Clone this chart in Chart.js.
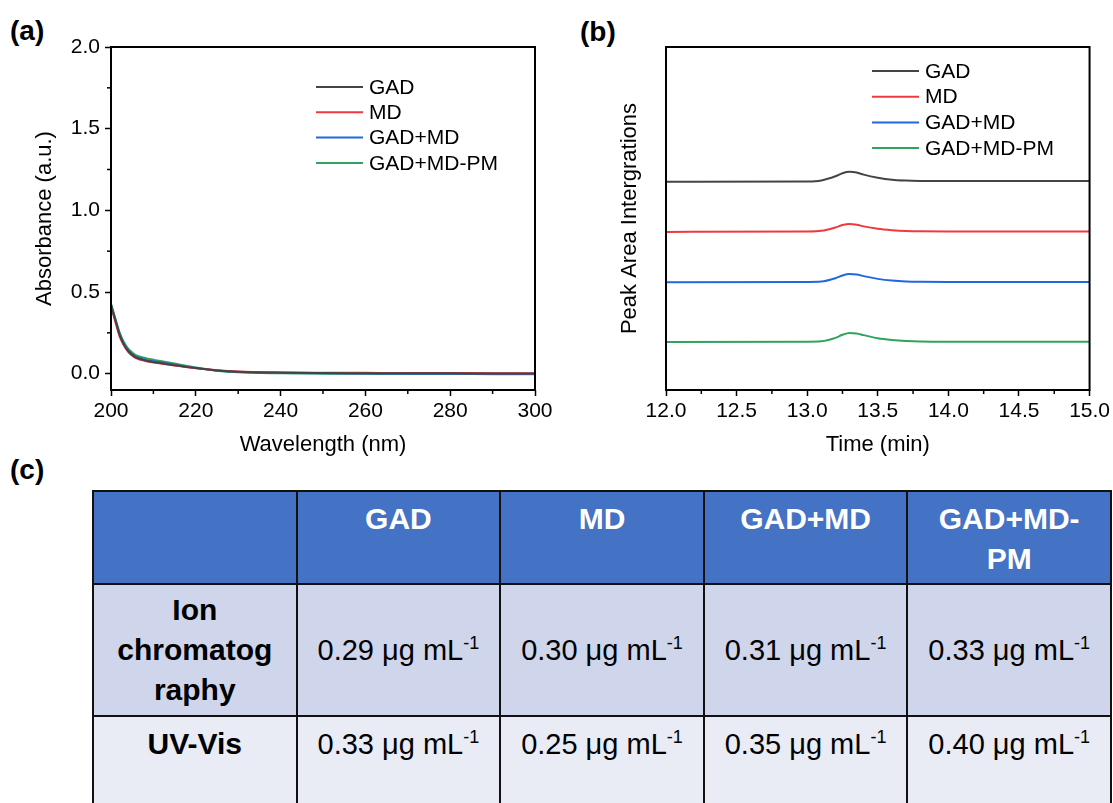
<!DOCTYPE html>
<html>
<head>
  <meta charset="utf-8" />
  <title>GAD / MD detection</title>
  <script src="https://cdn.jsdelivr.net/npm/chart.js@4.4.1/dist/chart.umd.min.js"></script>
  <style>
    body {
      margin: 0;
      width: 1113px;
      height: 803px;
      overflow: hidden;
      background-color: #ffffff;
      font-family: 'Liberation Sans', Arial, sans-serif;
      position: relative;
    }
    canvas { position: absolute; top: 0; }
    #uv { left: 0; }
    #ic { left: 556px; }
    .panel {
      position: absolute;
      font-size: 28px;
      font-weight: bold;
      line-height: 1;
    }
    #lod {
      position: absolute;
      left: 92px;
      top: 490px;
      width: 1020px;
      border-collapse: collapse;
      table-layout: fixed;
    }
    #lod td, #lod th {
      border: 2px solid #111111;
      text-align: center;
      line-height: 40px;
      padding: 0 4px;
    }
    #lod th {
      background-color: #4472C4;
      color: #ffffff;
      font-size: 30px;
      height: 84px;
      vertical-align: top;
      padding-top: 7px;
    }
    #lod td { font-size: 29px; }
    #lod td.name { font-weight: bold; font-size: 30px; }
    #lod tr.ic td { background-color: #CFD5EA; height: 130px; vertical-align: middle; }
    #lod tr.uv td { background-color: #E9EBF5; height: 100px; vertical-align: top; padding-top: 7px; }
    #lod sup { font-size: 18px; line-height: 0; vertical-align: 11px; }
  </style>
</head>
<body>
  <div class="panel" style="left:10px; top:17px;">(a)</div>
  <div class="panel" style="left:580px; top:18px;">(b)</div>
  <div class="panel" style="left:10px; top:456px;">(c)</div>

  <canvas id="uv" width="560" height="470"></canvas>
  <canvas id="ic" width="557" height="470"></canvas>

  <table id="lod"></table>

  <script>
    const samples = ['GAD', 'MD', 'GAD+MD', 'GAD+MD-PM'];
    const colors = ['#444444', '#F0393C', '#2168DE', '#2FA35F'];

    // UV-Vis absorbance spectra
    const wavelength = [200, 201, 202, 203, 204, 205, 206, 208, 210, 212, 215, 218, 220, 225, 230, 240, 250, 260, 270, 280, 290, 300];
    const absGAD   = [0.42, 0.33, 0.24, 0.18, 0.14, 0.115, 0.098, 0.082, 0.072, 0.064, 0.052, 0.040, 0.034, 0.020, 0.012, 0.006, 0.004, 0.003, 0.002, 0.002, 0.001, 0.001];
    const absMD    = [0.41, 0.32, 0.23, 0.175, 0.135, 0.11, 0.094, 0.078, 0.068, 0.061, 0.050, 0.039, 0.033, 0.021, 0.013, 0.008, 0.006, 0.005, 0.004, 0.004, 0.003, 0.003];
    const absGADMD = [0.42, 0.33, 0.245, 0.185, 0.145, 0.12, 0.102, 0.086, 0.076, 0.068, 0.055, 0.042, 0.035, 0.019, 0.010, 0.004, 0.002, 0.001, 0.000, -0.001, -0.001, -0.002];
    const absPM    = [0.43, 0.34, 0.255, 0.195, 0.155, 0.13, 0.112, 0.096, 0.085, 0.076, 0.062, 0.047, 0.038, 0.018, 0.008, 0.002, 0.000, -0.001, -0.002, -0.002, -0.003, -0.003];
    const uvMinorX = [210, 230, 250, 270, 290];
    const uvMinorY = [0.25, 0.75, 1.25, 1.75];

    // ion chromatograms (stacked, arbitrary units)
    const time = [12.0, 13.0, 13.1, 13.2, 13.25, 13.3, 13.35, 13.4, 13.5, 13.6, 13.7, 13.8, 14.0, 15.0];
    const icGAD   = [60.7, 60.8, 61.1, 62.3, 63.2, 63.6, 63.4, 62.8, 61.9, 61.3, 61.05, 60.95, 60.9, 60.9];
    const icMD    = [46.1, 46.2, 46.4, 47.4, 48.1, 48.4, 48.2, 47.7, 47.0, 46.6, 46.35, 46.25, 46.2, 46.2];
    const icGADMD = [31.4, 31.5, 31.6, 32.6, 33.4, 33.8, 33.7, 33.2, 32.4, 31.9, 31.65, 31.55, 31.5, 31.5];
    const icPM    = [14.0, 14.1, 14.2, 15.2, 16.1, 16.6, 16.5, 16.0, 15.1, 14.6, 14.3, 14.15, 14.1, 14.1];
    const icMinorX = [12.25, 12.75, 13.25, 13.75, 14.25, 14.75];

    // detection limits (ug/mL)
    const ionChromatography = ['0.29', '0.30', '0.31', '0.33'];
    const uvVis = ['0.33', '0.25', '0.35', '0.40'];

    Chart.defaults.font.family = "'Liberation Sans', Arial, sans-serif";
    Chart.defaults.color = '#000000';

    // axis box, minor ticks and the little inset legend
    const framePlugin = {
      id: 'frame',
      afterDraw(chart, args, opts) {
        const ctx = chart.ctx;
        const a = chart.chartArea;
        const sx = chart.scales.x, sy = chart.scales.y;
        ctx.save();
        ctx.strokeStyle = '#000000';
        ctx.lineWidth = 1.5;
        (opts.minorX || []).forEach(v => {
          const px = sx.getPixelForValue(v);
          ctx.beginPath(); ctx.moveTo(px, a.bottom); ctx.lineTo(px, a.bottom + 4); ctx.stroke();
        });
        (opts.minorY || []).forEach(v => {
          const py = sy.getPixelForValue(v);
          ctx.beginPath(); ctx.moveTo(a.left, py); ctx.lineTo(a.left - 4, py); ctx.stroke();
        });
        ctx.lineWidth = 2;
        ctx.strokeRect(a.left, a.top, a.right - a.left, a.bottom - a.top);

        // legend
        ctx.font = "21px 'Liberation Sans', Arial, sans-serif";
        ctx.textBaseline = 'middle';
        chart.data.datasets.forEach((ds, i) => {
          const y = opts.legendTop + i * opts.legendGap;
          ctx.strokeStyle = ds.borderColor;
          ctx.lineWidth = 2;
          ctx.beginPath(); ctx.moveTo(316, y); ctx.lineTo(363, y); ctx.stroke();
          ctx.fillStyle = '#000000';
          ctx.fillText(ds.label, 369, y + 1);
        });
        ctx.restore();
      }
    };

    function makeSets(series) {
      return series.map((vals, i) => ({
        label: samples[i],
        data: vals,
        borderColor: colors[i],
        borderWidth: 2,
        pointRadius: 0,
        fill: false,
        cubicInterpolationMode: 'monotone'
      }));
    }

    function pairs(xs, ys) {
      return ys.map((v, i) => ({ x: xs[i], y: v }));
    }

    new Chart(document.getElementById('uv'), {
      type: 'line',
      data: {
        datasets: makeSets([absGAD, absMD, absGADMD, absPM].map(s => pairs(wavelength, s)))
      },
      options: {
        responsive: false,
        animation: false,
        layout: { padding: { left: 28, top: 47, right: 25, bottom: 8 } },
        plugins: {
          legend: { display: false },
          tooltip: { enabled: false },
          frame: { minorX: uvMinorX, minorY: uvMinorY, legendTop: 87, legendGap: 25.3 }
        },
        scales: {
          x: {
            type: 'linear', min: 200, max: 300,
            ticks: { stepSize: 20, padding: 3, font: { size: 21 } },
            grid: { drawOnChartArea: false, tickLength: 6, tickWidth: 1.5, color: '#000000' },
            border: { display: false },
            title: { display: true, text: 'Wavelength (nm)', font: { size: 22 } },
            afterFit: s => { s.height = 72; }
          },
          y: {
            min: -0.1, max: 2.0,
            ticks: { stepSize: 0.5, includeBounds: false, padding: 5, font: { size: 21 }, callback: v => v.toFixed(1) },
            grid: { drawOnChartArea: false, tickLength: 6, tickWidth: 1.5, color: '#000000' },
            border: { display: false },
            title: { display: true, text: 'Absorbance (a.u.)', font: { size: 22 } },
            afterFit: s => { s.width = 83; }
          }
        }
      },
      plugins: [framePlugin]
    });

    new Chart(document.getElementById('ic'), {
      type: 'line',
      data: {
        datasets: makeSets([icGAD, icMD, icGADMD, icPM].map(s => pairs(time, s)))
      },
      options: {
        responsive: false,
        animation: false,
        layout: { padding: { left: 57, top: 47, right: 23, bottom: 8 } },
        plugins: {
          legend: { display: false },
          tooltip: { enabled: false },
          frame: { minorX: icMinorX, minorY: [], legendTop: 71, legendGap: 25.7 }
        },
        scales: {
          x: {
            type: 'linear', min: 12, max: 15,
            ticks: { stepSize: 0.5, padding: 3, font: { size: 21 }, callback: v => v.toFixed(1) },
            grid: { drawOnChartArea: false, tickLength: 6, tickWidth: 1.5, color: '#000000' },
            border: { display: false },
            title: { display: true, text: 'Time (min)', font: { size: 22 } },
            afterFit: s => { s.height = 72; }
          },
          y: {
            min: 0, max: 100,
            ticks: { display: false },
            grid: { display: false },
            border: { display: false },
            title: { display: true, text: 'Peak Area Intergrations', font: { size: 22 } },
            afterFit: s => { s.width = 53; }
          }
        }
      },
      plugins: [framePlugin]
    });

    // detection limit table
    const unit = ' μg mL<sup>-1</sup>';
    const table = document.getElementById('lod');
    table.innerHTML =
      '<tr><th></th>' + samples.map(s => '<th>' + s.replace('MD-PM', 'MD-<br>PM') + '</th>').join('') + '</tr>' +
      '<tr class="ic"><td class="name">Ion<br>chromatog<br>raphy</td>' + ionChromatography.map(v => '<td>' + v + unit + '</td>').join('') + '</tr>' +
      '<tr class="uv"><td class="name">UV-Vis</td>' + uvVis.map(v => '<td>' + v + unit + '</td>').join('') + '</tr>';
  </script>
</body>
</html>
